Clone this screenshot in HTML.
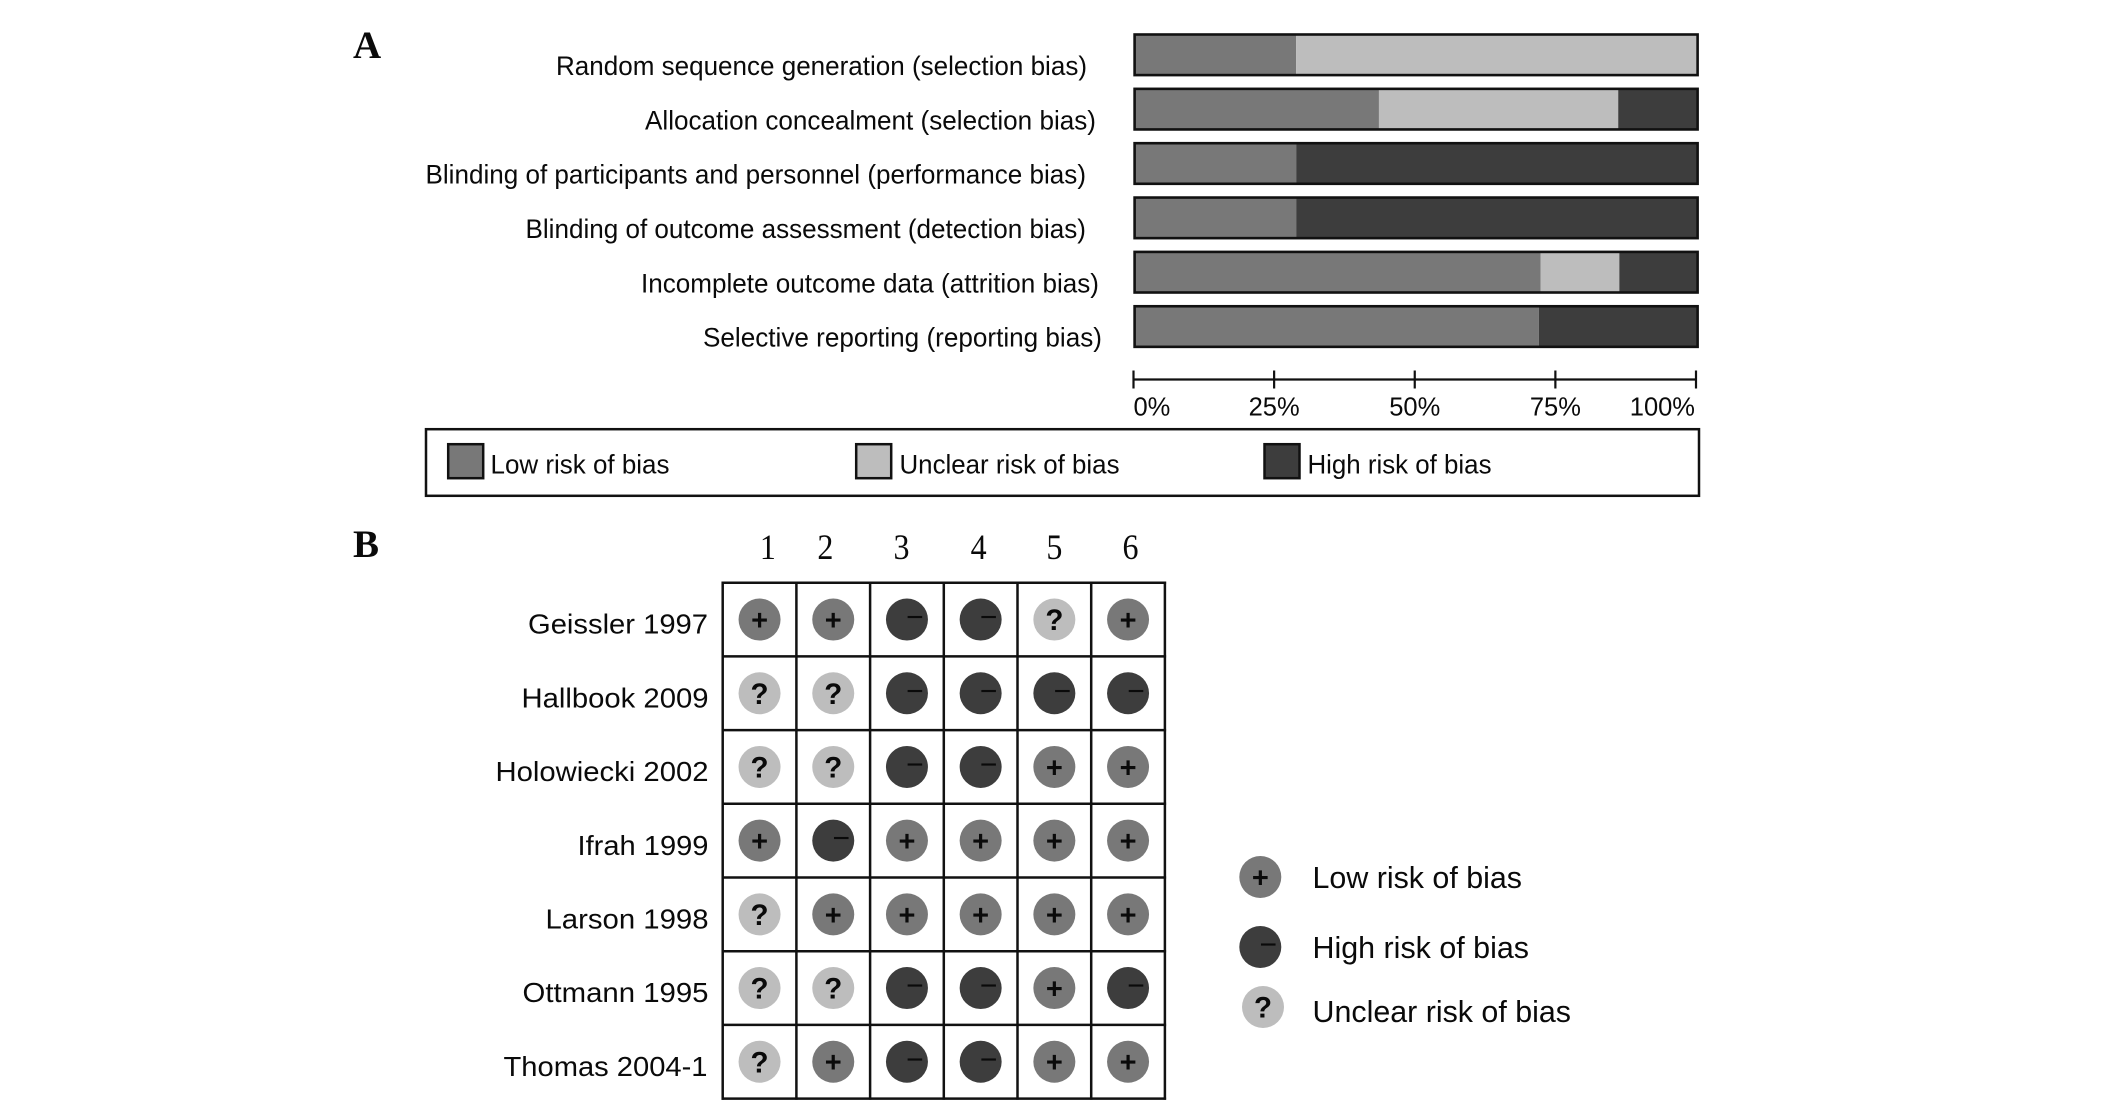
<!DOCTYPE html>
<html lang="en">
<head>
<meta charset="utf-8">
<title>Risk of bias summary</title>
<style>
html,body{margin:0;padding:0;background:#fff;width:2126px;height:1107px;overflow:hidden}
svg{display:block}
text{font-family:"Liberation Sans",Arial,sans-serif;fill:#0a0a0a}
.serif{font-family:"Liberation Serif","Times New Roman",serif}
.lab{font-size:26.5px}
.tick{font-size:25.5px}
.row{font-size:28px}
.leg{font-size:31px}
</style>
</head>
<body>
<svg id="chart" xmlns="http://www.w3.org/2000/svg" width="2126" height="1107" viewBox="0 0 2126 1107">
  <rect x="0" y="0" width="2126" height="1107" fill="#fff"/>

  <text class="serif" x="353" y="58" font-size="39" font-weight="bold">A</text>
  <text class="serif" x="353" y="557" font-size="39" font-weight="bold">B</text>

  <g>
    <text class="lab" x="556" y="75" textLength="531" lengthAdjust="spacingAndGlyphs">Random sequence generation (selection bias)</text>
    <text class="lab" x="645" y="129.3" textLength="451" lengthAdjust="spacingAndGlyphs">Allocation concealment (selection bias)</text>
    <text class="lab" x="425.5" y="183.6" textLength="660.5" lengthAdjust="spacingAndGlyphs">Blinding of participants and personnel (performance bias)</text>
    <text class="lab" x="525.5" y="238" textLength="560.5" lengthAdjust="spacingAndGlyphs">Blinding of outcome assessment (detection bias)</text>
    <text class="lab" x="641" y="292.3" textLength="458" lengthAdjust="spacingAndGlyphs">Incomplete outcome data (attrition bias)</text>
    <text class="lab" x="703" y="346.6" textLength="399" lengthAdjust="spacingAndGlyphs">Selective reporting (reporting bias)</text>
  </g>

  <g id="bars"></g>
  <g id="axis"></g>

  <g>
    <rect x="426" y="429.2" width="1273" height="66.6" fill="#fff" stroke="#111" stroke-width="2.5"/>
    <rect x="448.2" y="444.2" width="35" height="34" fill="#787878" stroke="#111" stroke-width="2.5"/>
    <text class="lab" x="490.5" y="473.6" textLength="179" lengthAdjust="spacingAndGlyphs">Low risk of bias</text>
    <rect x="856.2" y="444.2" width="35" height="34" fill="#bdbdbd" stroke="#111" stroke-width="2.5"/>
    <text class="lab" x="899.5" y="473.6" textLength="220" lengthAdjust="spacingAndGlyphs">Unclear risk of bias</text>
    <rect x="1264.5" y="444.2" width="35" height="34" fill="#3d3d3d" stroke="#111" stroke-width="2.5"/>
    <text class="lab" x="1307.5" y="473.6" textLength="184" lengthAdjust="spacingAndGlyphs">High risk of bias</text>
  </g>

  <g id="headers"></g>

  <g>
    <text class="row" x="528" y="633.6" textLength="180" lengthAdjust="spacingAndGlyphs">Geissler 1997</text>
    <text class="row" x="521.5" y="707.4" textLength="187" lengthAdjust="spacingAndGlyphs">Hallbook 2009</text>
    <text class="row" x="495.5" y="781" textLength="213" lengthAdjust="spacingAndGlyphs">Holowiecki 2002</text>
    <text class="row" x="577.5" y="854.8" textLength="131" lengthAdjust="spacingAndGlyphs">Ifrah 1999</text>
    <text class="row" x="545.5" y="928.6" textLength="163" lengthAdjust="spacingAndGlyphs">Larson 1998</text>
    <text class="row" x="522.5" y="1002.2" textLength="186" lengthAdjust="spacingAndGlyphs">Ottmann 1995</text>
    <text class="row" x="503.5" y="1076" textLength="204" lengthAdjust="spacingAndGlyphs">Thomas 2004-1</text>
  </g>

  <g id="grid"></g>

  <g id="symbolLegend">
    <text class="leg" x="1312.5" y="888" textLength="209.5" lengthAdjust="spacingAndGlyphs">Low risk of bias</text>
    <text class="leg" x="1312.5" y="958" textLength="216.5" lengthAdjust="spacingAndGlyphs">High risk of bias</text>
    <text class="leg" x="1312.5" y="1022" textLength="258.5" lengthAdjust="spacingAndGlyphs">Unclear risk of bias</text>
  </g>
</svg>

<script>
// ---- Panel A data (percent of studies) ----
var domainIds = ['random-sequence', 'allocation', 'blinding-participants', 'blinding-outcome', 'incomplete-data', 'selective-reporting'];
var lowValues = [28.7, 43.4, 28.7, 28.7, 72.1, 71.8];
var unclearValues = [71.3, 42.5, 0, 0, 14.0, 0];
var highValues = [0, 14.1, 71.3, 71.3, 13.9, 28.2];
var tickValues = [0, 25, 50, 75, 100];
var tickLabels = ['0%', '25%', '50%', '75%', '100%'];

// ---- Panel B data ----
var domainNumbers = ['1', '2', '3', '4', '5', '6'];
var geissler = ['+', '+', '-', '-', '?', '+'];
var hallbook = ['?', '?', '-', '-', '-', '-'];
var holowiecki = ['?', '?', '-', '-', '+', '+'];
var ifrah = ['+', '-', '+', '+', '+', '+'];
var larson = ['?', '+', '+', '+', '+', '+'];
var ottmann = ['?', '?', '-', '-', '+', '-'];
var thomas = ['?', '+', '-', '-', '+', '+'];
var judgements = [geissler, hallbook, holowiecki, ifrah, larson, ottmann, thomas];

// ---- Axis functions ----
var NS = 'http://www.w3.org/2000/svg';
function barX(v) { return 1134.6 + v * 5.63; }
function barTop(i) { return 34.5 + i * 54.35; }
var BAR_H = 40.6;
function axisX(v) { return 1133.5 + v * 5.625; }
function colX(c) { return 722.7 + c * 73.7; }
function rowY(r) { return 582.7 + r * 73.7; }
function colCenter(c) { return colX(c) + 36.85; }
function rowCenter(r) { return rowY(r) + 36.85; }

function make(tag, attrs, text) {
  var el = document.createElementNS(NS, tag);
  for (var k in attrs) { el.setAttribute(k, attrs[k]); }
  if (text !== undefined) { el.textContent = text; }
  return el;
}

var COLORS = { low: '#787878', unclear: '#bdbdbd', high: '#3d3d3d' };

// ---- Stacked bars ----
var barsG = document.getElementById('bars');
domainIds.forEach(function (id, i) {
  var series = [['low', lowValues[i]], ['unclear', unclearValues[i]], ['high', highValues[i]]];
  var start = 0;
  series.forEach(function (s) {
    if (s[1] <= 0) { return; }
    var seg = make('rect', {
      x: barX(start), y: barTop(i),
      width: barX(start + s[1]) - barX(start), height: BAR_H,
      fill: COLORS[s[0]]
    });
    
    
    barsG.appendChild(seg);
    start += s[1];
  });
  var outline = make('rect', {
    x: barX(0), y: barTop(i),
    width: barX(start) - barX(0), height: BAR_H,
    fill: 'none', stroke: '#111', 'stroke-width': 2.6
  });
  
  
  barsG.appendChild(outline);
});

// ---- X axis ----
var axisG = document.getElementById('axis');
var axisLine = make('line', {
  x1: axisX(tickValues[0]), x2: axisX(tickValues[tickValues.length - 1]),
  y1: 379.5, y2: 379.5, stroke: '#111', 'stroke-width': 2.2
});


axisG.appendChild(axisLine);
tickValues.forEach(function (v, i) {
  var tick = make('line', {
    x1: axisX(v), x2: axisX(v), y1: 370.5, y2: 388.5,
    stroke: '#111', 'stroke-width': 2.2
  });
  
  
  axisG.appendChild(tick);
  var first = i === 0, last = i === tickValues.length - 1;
  var label = make('text', {
    x: axisX(v) + (first ? 0 : last ? -1 : 0),
    y: 415.6,
    'class': 'tick',
    'text-anchor': first ? 'start' : last ? 'end' : 'middle'
  }, tickLabels[i]);
  
  
  axisG.appendChild(label);
});

// ---- Column headers (offset from each column centre, as in the source figure) ----
var headersG = document.getElementById('headers');
function headerOffset(c) { return c === 0 ? 8.3 : c === 1 ? -7.9 : c === 2 ? -5.5 : c === 3 ? -2 : c === 4 ? 0 : 2.4; }
domainNumbers.forEach(function (n, c) {
  var h = make('text', {
    x: colCenter(c) + headerOffset(c), y: 559,
    'class': 'serif', 'font-size': 36, 'text-anchor': 'middle',
    textLength: 16, lengthAdjust: 'spacingAndGlyphs'
  }, n);
  
  
  headersG.appendChild(h);
});

// ---- Symbols ----
var SYMBOL_FILL = { '+': COLORS.low, '-': COLORS.high, '?': COLORS.unclear };
function drawSymbol(parent, kind, cx, cy, name) {
  var g = make('g', {});
  
  
  g.appendChild(make('circle', { cx: cx, cy: cy, r: 21, fill: SYMBOL_FILL[kind] }));
  var glyph;
  if (kind === '+') {
    glyph = make('text', { x: cx, y: cy + 10.4, 'font-size': 29, 'font-weight': 'bold', 'text-anchor': 'middle' }, '+');
  } else if (kind === '-') {
    glyph = make('text', { x: cx + 8, y: cy + 7.5, 'font-size': 30, 'text-anchor': 'middle' }, '\u2212');
  } else {
    glyph = make('text', { x: cx, y: cy + 10.6, 'font-size': 29.5, 'font-weight': 'bold', 'text-anchor': 'middle' }, '?');
  }
  g.appendChild(glyph);
  parent.appendChild(g);
}

// ---- Judgement grid ----
var gridG = document.getElementById('grid');
var nRows = judgements.length, nCols = domainNumbers.length;
for (var r = 0; r <= nRows; r++) {
  var hl = make('line', { x1: colX(0) - 1.2, x2: colX(nCols) + 1.2, y1: rowY(r), y2: rowY(r), stroke: '#111', 'stroke-width': 2.5 });
  
  
  gridG.appendChild(hl);
}
for (var c = 0; c <= nCols; c++) {
  var vl = make('line', { x1: colX(c), x2: colX(c), y1: rowY(0) - 1.2, y2: rowY(nRows) + 1.2, stroke: '#111', 'stroke-width': 2.5 });
  
  
  gridG.appendChild(vl);
}
judgements.forEach(function (row, r) {
  row.forEach(function (kind, c) {
    drawSymbol(gridG, kind, colCenter(c), rowCenter(r), 'judgement-r' + (r + 1) + '-c' + (c + 1));
  });
});

// ---- Symbol legend ----
var symbolLegend = document.getElementById('symbolLegend');
drawSymbol(symbolLegend, '+', 1260.3, 877, 'symbol-legend-low');
drawSymbol(symbolLegend, '-', 1260.3, 947, 'symbol-legend-high');
drawSymbol(symbolLegend, '?', 1263, 1007, 'symbol-legend-unclear');
</script>
</body>
</html>
